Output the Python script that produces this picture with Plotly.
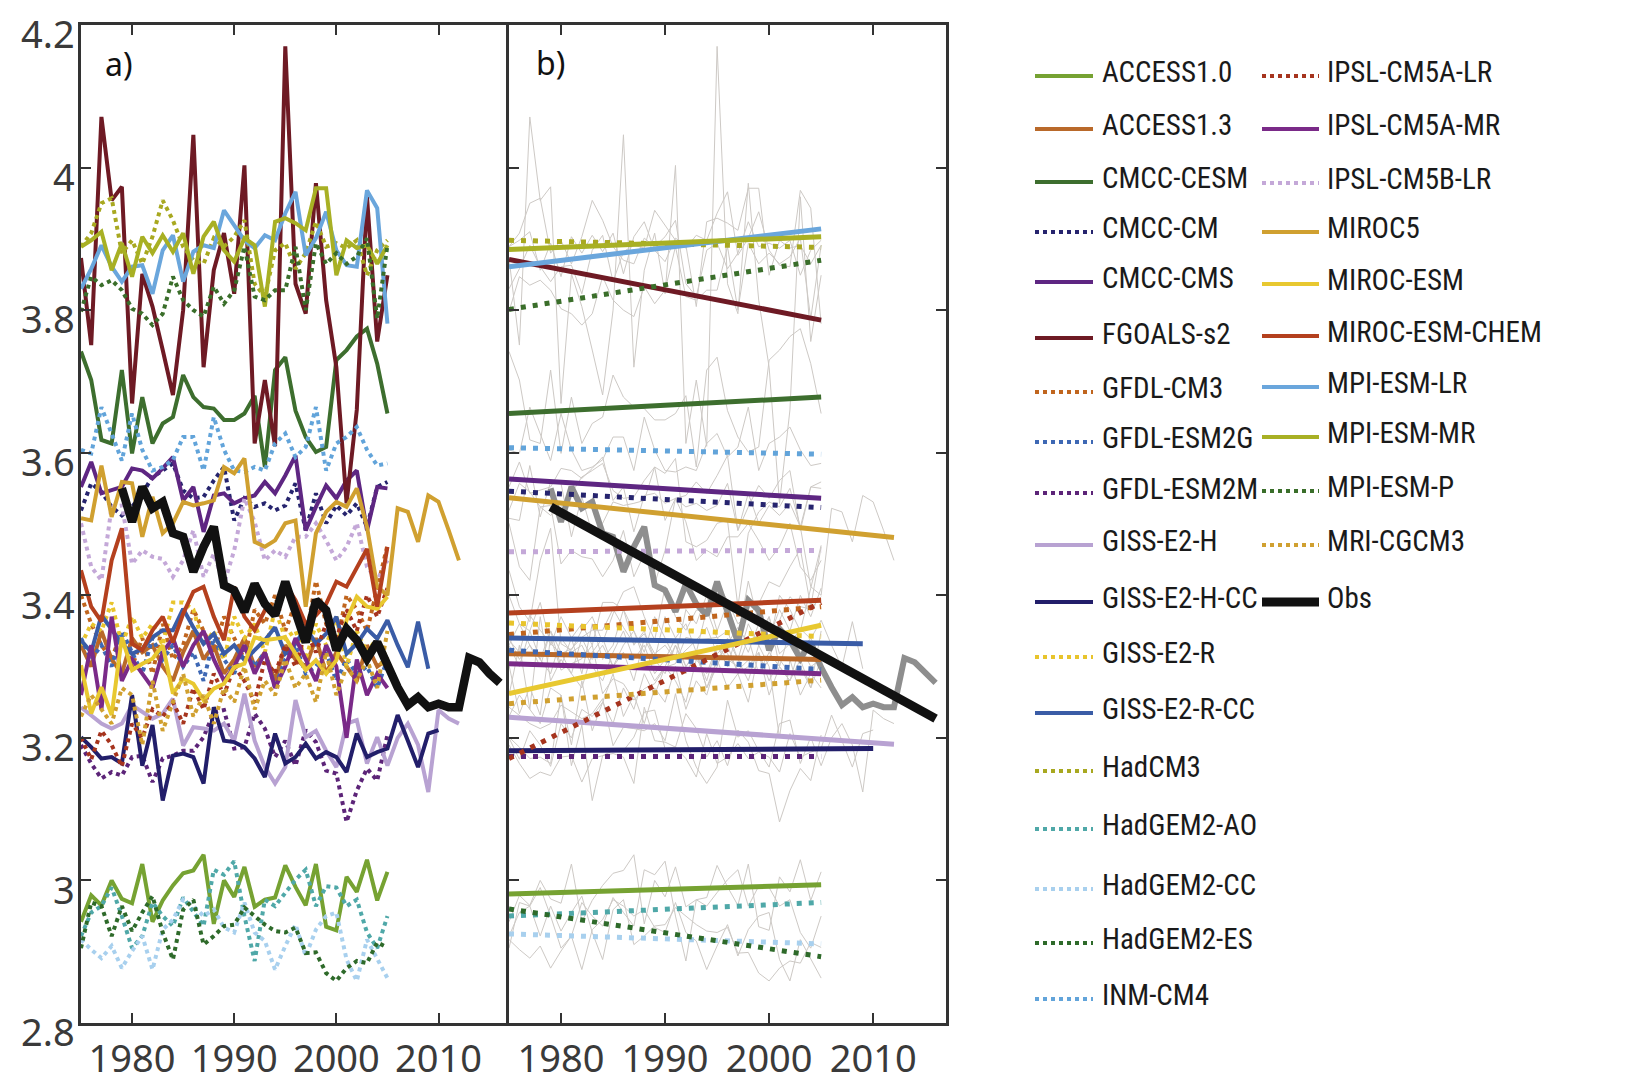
import plotly.graph_objects as go

W, H = 1634, 1075

# ---------------- data ----------------
model_names = ["ACCESS1.0", "ACCESS1.3", "CMCC-CESM", "CMCC-CM", "CMCC-CMS", "FGOALS-s2",
               "GFDL-CM3", "GFDL-ESM2G", "GFDL-ESM2M", "GISS-E2-H", "GISS-E2-H-CC",
               "GISS-E2-R", "GISS-E2-R-CC", "HadCM3", "HadGEM2-AO", "HadGEM2-CC",
               "HadGEM2-ES", "INM-CM4", "IPSL-CM5A-LR", "IPSL-CM5A-MR", "IPSL-CM5B-LR",
               "MIROC5", "MIROC-ESM", "MIROC-ESM-CHEM", "MPI-ESM-LR", "MPI-ESM-MR",
               "MPI-ESM-P", "MRI-CGCM3"]
first_year = 1975
last_year = [2005, 2005, 2005, 2005, 2005, 2005, 2005, 2005, 2005, 2012, 2010, 2005, 2009, 2005,
             2005, 2005, 2005, 2005, 2005, 2005, 2005, 2012, 2005, 2005, 2005, 2005, 2005, 2005]

access10 = [2.942, 2.979, 2.965, 3.000, 2.974, 2.968, 3.023, 2.942, 2.972, 2.993, 3.010, 3.014, 3.036,
            2.939, 3.000, 2.977, 3.019, 2.963, 2.973, 2.976, 3.021, 2.991, 2.965, 3.023, 2.935, 2.930,
            3.005, 2.984, 3.029, 2.972, 3.012]
access13 = [3.33, 3.30, 3.35, 3.31, 3.29, 3.34, 3.32, 3.33, 3.30, 3.28, 3.32, 3.35, 3.31, 3.33, 3.29,
            3.31, 3.34, 3.30, 3.32, 3.28, 3.33, 3.31, 3.30, 3.34, 3.29, 3.32, 3.30, 3.28, 3.33, 3.30, 3.31]
cmcc_cesm = [3.742, 3.702, 3.618, 3.613, 3.716, 3.599, 3.678, 3.613, 3.641, 3.650, 3.709, 3.678, 3.664,
             3.662, 3.646, 3.646, 3.655, 3.680, 3.580, 3.716, 3.734, 3.659, 3.622, 3.601, 3.608, 3.730,
             3.744, 3.763, 3.774, 3.725, 3.655]
cmcc_cm = [3.519, 3.557, 3.545, 3.524, 3.512, 3.524, 3.543, 3.566, 3.575, 3.585, 3.547, 3.536, 3.538,
           3.561, 3.580, 3.505, 3.536, 3.524, 3.529, 3.519, 3.526, 3.557, 3.491, 3.543, 3.501, 3.526,
           3.512, 3.529, 3.496, 3.552, 3.559]
cmcc_cms = [3.552, 3.587, 3.543, 3.547, 3.552, 3.578, 3.575, 3.564, 3.578, 3.594, 3.533, 3.552, 3.489,
            3.540, 3.543, 3.529, 3.536, 3.540, 3.559, 3.543, 3.568, 3.596, 3.491, 3.524, 3.554, 3.536,
            3.561, 3.575, 3.491, 3.552, 3.550]
fgoals_s2 = [3.873, 3.751, 4.071, 3.954, 3.973, 3.669, 3.851, 3.805, 3.744, 3.681, 3.800, 4.046, 3.720,
             3.856, 3.908, 3.823, 4.003, 3.613, 3.702, 3.609, 4.170, 3.837, 3.795, 3.978, 3.814, 3.720,
             3.529, 3.660, 3.959, 3.756, 3.849]
gfdl_cm3 = [3.40, 3.36, 3.33, 3.31, 3.35, 3.30, 3.34, 3.29, 3.36, 3.31, 3.33, 3.38, 3.35, 3.32, 3.37,
            3.34, 3.31, 3.38, 3.36, 3.40, 3.35, 3.39, 3.34, 3.42, 3.36, 3.33, 3.40, 3.38, 3.35, 3.41, 3.47]
gfdl_esm2g = [3.34, 3.31, 3.33, 3.30, 3.35, 3.32, 3.29, 3.34, 3.31, 3.33, 3.30, 3.32, 3.28, 3.34, 3.31,
              3.29, 3.33, 3.30, 3.32, 3.27, 3.31, 3.33, 3.29, 3.30, 3.32, 3.28, 3.31, 3.29, 3.30, 3.27, 3.31]
gfdl_esm2m = [3.190, 3.164, 3.143, 3.152, 3.147, 3.173, 3.175, 3.138, 3.171, 3.175, 3.182, 3.182, 3.201,
              3.236, 3.239, 3.185, 3.187, 3.234, 3.213, 3.173, 3.196, 3.161, 3.211, 3.194, 3.154, 3.150,
              3.082, 3.126, 3.157, 3.140, 3.204]
giss_e2_h = [3.243, 3.232, 3.220, 3.213, 3.220, 3.246, 3.236, 3.227, 3.234, 3.255, 3.189, 3.215, 3.213,
             3.210, 3.220, 3.196, 3.262, 3.196, 3.159, 3.136, 3.159, 3.253, 3.201, 3.210, 3.182, 3.159,
             3.220, 3.225, 3.164, 3.201, 3.161, 3.200, 3.220, 3.190, 3.124, 3.239, 3.227, 3.220]
giss_e2_h_cc = [3.201, 3.187, 3.171, 3.173, 3.164, 3.260, 3.161, 3.218, 3.112, 3.175, 3.178, 3.173,
                3.136, 3.243, 3.196, 3.194, 3.187, 3.171, 3.145, 3.206, 3.164, 3.173, 3.192, 3.171,
                3.180, 3.173, 3.152, 3.206, 3.173, 3.180, 3.185, 3.232, 3.196, 3.159, 3.206, 3.211]
giss_e2_r = [3.33, 3.36, 3.35, 3.39, 3.33, 3.37, 3.34, 3.36, 3.33, 3.39, 3.39, 3.38, 3.33, 3.35, 3.31,
             3.37, 3.34, 3.36, 3.32, 3.38, 3.34, 3.35, 3.31, 3.36, 3.33, 3.37, 3.30, 3.35, 3.32, 3.34, 3.31]
giss_e2_r_cc = [3.337, 3.320, 3.372, 3.351, 3.332, 3.318, 3.325, 3.341, 3.351, 3.351, 3.381, 3.355,
                3.332, 3.346, 3.318, 3.330, 3.309, 3.323, 3.337, 3.355, 3.318, 3.332, 3.355, 3.332,
                3.346, 3.370, 3.318, 3.332, 3.353, 3.339, 3.365, 3.330, 3.299, 3.363, 3.297]
hadcm3 = [3.889, 3.908, 3.950, 3.957, 3.880, 3.898, 3.865, 3.903, 3.954, 3.926, 3.889, 3.870, 3.865,
          3.901, 3.889, 3.903, 3.926, 3.837, 3.819, 3.884, 3.894, 3.858, 3.880, 3.924, 3.889, 3.894,
          3.887, 3.898, 3.849, 3.884, 3.898]
hadgem2_ao = [2.922, 2.955, 2.964, 2.990, 2.950, 2.905, 2.922, 2.969, 2.950, 2.936, 2.976, 2.955, 2.936,
              3.015, 3.008, 3.027, 2.950, 2.887, 2.973, 2.964, 2.983, 3.001, 3.015, 2.964, 2.992, 2.990,
              2.964, 2.973, 2.927, 2.905, 2.950]
hadgem2_cc = [2.917, 2.903, 2.891, 2.908, 2.877, 2.901, 2.922, 2.875, 2.931, 2.945, 2.973, 2.964, 2.950,
              2.959, 2.934, 2.927, 2.969, 2.927, 2.915, 2.875, 2.908, 2.938, 2.894, 2.931, 2.950, 2.955,
              2.889, 2.859, 2.917, 2.889, 2.863]
hadgem2_es = [2.905, 2.969, 2.964, 2.922, 2.964, 2.929, 2.955, 2.978, 2.927, 2.889, 2.959, 2.973, 2.910,
              2.922, 2.936, 2.938, 2.962, 2.950, 2.938, 2.929, 2.927, 2.934, 2.898, 2.899, 2.870, 2.859,
              2.877, 2.887, 2.884, 2.913, 2.906]
inm_cm4 = [3.604, 3.599, 3.664, 3.627, 3.589, 3.655, 3.604, 3.575, 3.580, 3.590, 3.622, 3.622, 3.575,
           3.650, 3.604, 3.575, 3.573, 3.580, 3.575, 3.613, 3.627, 3.594, 3.608, 3.664, 3.575, 3.613,
           3.622, 3.636, 3.604, 3.582, 3.585]
ipsl_cm5a_lr = [3.20, 3.17, 3.21, 3.19, 3.16, 3.22, 3.20, 3.24, 3.23, 3.25, 3.22, 3.27, 3.24, 3.29, 3.26,
                3.30, 3.28, 3.25, 3.31, 3.29, 3.33, 3.30, 3.35, 3.32, 3.36, 3.34, 3.38, 3.35, 3.40, 3.37,
                3.41]
ipsl_cm5a_mr = [3.26, 3.33, 3.24, 3.37, 3.28, 3.31, 3.29, 3.27, 3.32, 3.34, 3.30, 3.33, 3.35, 3.31, 3.28,
                3.30, 3.33, 3.29, 3.32, 3.27, 3.30, 3.34, 3.31, 3.28, 3.33, 3.30, 3.20, 3.31, 3.26, 3.29,
                3.27]
ipsl_cm5b_lr = [3.501, 3.440, 3.421, 3.524, 3.526, 3.444, 3.463, 3.454, 3.451, 3.426, 3.449, 3.491,
                3.426, 3.458, 3.416, 3.463, 3.536, 3.503, 3.449, 3.463, 3.454, 3.482, 3.482, 3.501,
                3.477, 3.449, 3.468, 3.501, 3.440, 3.421, 3.449]
miroc5 = [3.508, 3.505, 3.582, 3.510, 3.559, 3.557, 3.482, 3.538, 3.487, 3.501, 3.531, 3.526, 3.529,
          3.533, 3.580, 3.571, 3.592, 3.475, 3.468, 3.477, 3.501, 3.505, 3.384, 3.487, 3.517, 3.531,
          3.524, 3.550, 3.496, 3.412, 3.400, 3.522, 3.517, 3.475, 3.540, 3.531, 3.491, 3.449]
miroc_esm = [3.302, 3.234, 3.271, 3.232, 3.341, 3.295, 3.304, 3.311, 3.330, 3.262, 3.283, 3.276, 3.253,
             3.269, 3.276, 3.299, 3.304, 3.341, 3.337, 3.339, 3.341, 3.318, 3.295, 3.309, 3.290, 3.309,
             3.365, 3.398, 3.384, 3.381, 3.398]
miroc_esm_chem = [3.435, 3.384, 3.363, 3.449, 3.494, 3.332, 3.323, 3.351, 3.370, 3.334, 3.374, 3.405,
                  3.412, 3.370, 3.337, 3.412, 3.370, 3.351, 3.379, 3.381, 3.416, 3.393, 3.360, 3.372,
                  3.388, 3.419, 3.412, 3.440, 3.465, 3.384, 3.468]
mpi_esm_lr = [3.830, 3.858, 3.891, 3.861, 3.840, 3.861, 3.863, 3.823, 3.884, 3.905, 3.840, 3.882, 3.891,
              3.887, 3.940, 3.919, 3.898, 3.887, 3.905, 3.898, 3.936, 3.966, 3.877, 3.901, 3.938, 3.884,
              3.863, 3.861, 3.968, 3.943, 3.781]
mpi_esm_mr = [3.889, 3.898, 3.910, 3.856, 3.894, 3.847, 3.903, 3.880, 3.905, 3.882, 3.908, 3.851, 3.903,
              3.924, 3.884, 3.868, 3.901, 3.891, 3.805, 3.924, 3.929, 3.922, 3.912, 3.971, 3.971, 3.849,
              3.898, 3.887, 3.891, 3.865, 3.891]
mpi_esm_p = [3.798, 3.847, 3.835, 3.842, 3.828, 3.802, 3.795, 3.779, 3.795, 3.847, 3.814, 3.800, 3.791,
             3.833, 3.809, 3.828, 3.889, 3.819, 3.814, 3.828, 3.828, 3.889, 3.800, 3.894, 3.865, 3.880,
             3.865, 3.875, 3.901, 3.788, 3.891]
mri_cgcm3 = [3.23, 3.26, 3.24, 3.22, 3.27, 3.26, 3.19, 3.28, 3.21, 3.25, 3.29, 3.23, 3.26, 3.22, 3.27,
             3.25, 3.30, 3.24, 3.28, 3.26, 3.31, 3.27, 3.29, 3.25, 3.32, 3.26, 3.30, 3.28, 3.31, 3.27, 3.35]

obs_first_year = 1979
obs = [3.550, 3.503, 3.552, 3.522, 3.531, 3.487, 3.482, 3.433, 3.468, 3.496, 3.414, 3.407, 3.377,
       3.416, 3.388, 3.372, 3.419, 3.379, 3.334, 3.393, 3.379, 3.323, 3.353, 3.337, 3.311, 3.334,
       3.299, 3.271, 3.246, 3.257, 3.243, 3.248, 3.243, 3.243, 3.312, 3.306, 3.290, 3.277]

# linear trends of panel b (value at first year, value at last year)
trend_start = [2.981, 3.318, 3.655, 3.546, 3.563, 3.871, 3.345, 3.323, 3.174, 3.229, 3.182, 3.361,
               3.340, 3.898, 2.950, 2.925, 2.960, 3.607, 3.171, 3.304, 3.461, 3.537, 3.262, 3.375,
               3.861, 3.885, 3.801, 3.248]
trend_end = [2.994, 3.310, 3.678, 3.523, 3.536, 3.786, 3.384, 3.296, 3.174, 3.191, 3.185, 3.342,
             3.332, 3.888, 2.969, 2.911, 2.893, 3.598, 3.390, 3.290, 3.463, 3.481, 3.358, 3.393,
             3.914, 3.903, 3.870, 3.281]
obs_trend = [3.524, 3.227]

x_ticks = [1980, 1990, 2000, 2010]
y_ticks = [2.8, 3.0, 3.2, 3.4, 3.6, 3.8, 4.0, 4.2]
y_tick_text = ["2.8", "3", "3.2", "3.4", "3.6", "3.8", "4", "4.2"]

# ---------------- styles ----------------
series_values = [access10, access13, cmcc_cesm, cmcc_cm, cmcc_cms, fgoals_s2, gfdl_cm3, gfdl_esm2g,
                 gfdl_esm2m, giss_e2_h, giss_e2_h_cc, giss_e2_r, giss_e2_r_cc, hadcm3, hadgem2_ao,
                 hadgem2_cc, hadgem2_es, inm_cm4, ipsl_cm5a_lr, ipsl_cm5a_mr, ipsl_cm5b_lr, miroc5,
                 miroc_esm, miroc_esm_chem, mpi_esm_lr, mpi_esm_mr, mpi_esm_p, mri_cgcm3]

colors = {
    "ACCESS1.0": "#76a232", "ACCESS1.3": "#b9692a", "CMCC-CESM": "#3d6e2e", "CMCC-CM": "#26246e",
    "CMCC-CMS": "#5e2682", "FGOALS-s2": "#6e1a24", "GFDL-CM3": "#c0651e", "GFDL-ESM2G": "#3e68b4",
    "GFDL-ESM2M": "#5c2478", "GISS-E2-H": "#b8a2d2", "GISS-E2-H-CC": "#221e6a", "GISS-E2-R": "#e8c42c",
    "GISS-E2-R-CC": "#3a5ca6", "HadCM3": "#a8a820", "HadGEM2-AO": "#4fa8a8", "HadGEM2-CC": "#a8d0ee",
    "HadGEM2-ES": "#2e6a2a", "INM-CM4": "#62a4da", "IPSL-CM5A-LR": "#a6341e", "IPSL-CM5A-MR": "#7a2a88",
    "IPSL-CM5B-LR": "#c4a8d8", "MIROC5": "#d0a030", "MIROC-ESM": "#e8c830", "MIROC-ESM-CHEM": "#b4401e",
    "MPI-ESM-LR": "#6aa6dc", "MPI-ESM-MR": "#a8b024", "MPI-ESM-P": "#3a6e2a", "MRI-CGCM3": "#d0a030",
}
dotted = {"CMCC-CM", "GFDL-CM3", "GFDL-ESM2G", "GFDL-ESM2M", "GISS-E2-R", "HadCM3", "HadGEM2-AO",
          "HadGEM2-CC", "HadGEM2-ES", "INM-CM4", "IPSL-CM5A-LR", "IPSL-CM5B-LR", "MPI-ESM-P",
          "MRI-CGCM3"}

TICK_FONT = dict(family="Noto Sans, Open Sans, sans-serif", size=38, color="#3a3a3a")
LEG_FONT = dict(family="Liberation Sans Narrow, Roboto Condensed, DejaVu Sans Condensed, Roboto, sans-serif",
                size=29, color="#1a1a1a")

fig = go.Figure()

# ---------------- panel a ----------------
for i, name in enumerate(model_names):
    yrs = list(range(first_year, last_year[i] + 1))
    fig.add_trace(go.Scatter(
        x=yrs, y=series_values[i], mode="lines", xaxis="x", yaxis="y", showlegend=False,
        line=dict(color=colors[name], width=4, dash="4px,4px" if name in dotted else "solid"),
        name=name))
obs_years = list(range(obs_first_year, obs_first_year + len(obs)))
fig.add_trace(go.Scatter(x=obs_years, y=obs, mode="lines", xaxis="x", yaxis="y", showlegend=False,
                         line=dict(color="#111111", width=8.5), name="Obs"))

# ---------------- panel b ----------------
for i, name in enumerate(model_names):
    yrs = list(range(first_year, last_year[i] + 1))
    fig.add_trace(go.Scatter(x=yrs, y=series_values[i], mode="lines", xaxis="x2", yaxis="y2",
                             showlegend=False, line=dict(color="#cdc9c5", width=1), name=name))
fig.add_trace(go.Scatter(x=obs_years, y=obs, mode="lines", xaxis="x2", yaxis="y2", showlegend=False,
                         line=dict(color="#8e8e8e", width=6), name="Obs"))
for i, name in enumerate(model_names):
    fig.add_trace(go.Scatter(
        x=[first_year, last_year[i]], y=[trend_start[i], trend_end[i]], mode="lines",
        xaxis="x2", yaxis="y2", showlegend=False,
        line=dict(color=colors[name], width=5, dash="5px,7px" if name in dotted else "solid"),
        name=name + " trend"))
fig.add_trace(go.Scatter(x=[obs_years[0], obs_years[-1]], y=obs_trend, mode="lines", xaxis="x2",
                         yaxis="y2", showlegend=False, line=dict(color="#111111", width=9),
                         name="Obs trend"))

# ---------------- axes ----------------
AX = dict(showgrid=False, zeroline=False, showline=True, linecolor="#333333", linewidth=2.5,
          ticks="inside", ticklen=10, tickwidth=2, tickcolor="#333333", ticklabeloverflow="allow",
          automargin=False)
ydom = [1 - 1023 / H, 1 - 25 / H]
fig.update_layout(
    width=W, height=H, margin=dict(l=0, r=0, t=0, b=0, autoexpand=False),
    paper_bgcolor="white", plot_bgcolor="white",
    xaxis=dict(domain=[81 / W, 510 / W], range=[1975, 2017], tickvals=x_ticks, mirror="ticks",
               tickfont=TICK_FONT, ticklabelstandoff=1, anchor="y", **AX),
    yaxis=dict(domain=ydom, range=[2.8, 4.2], tickvals=y_ticks, ticktext=y_tick_text, mirror=True,
               tickfont=TICK_FONT, ticklabelstandoff=-4, ticklabelshift=10, anchor="x", **AX),
    xaxis2=dict(domain=[509 / W, 946 / W], range=[1975, 2017], tickvals=x_ticks, mirror="ticks",
                tickfont=TICK_FONT, ticklabelstandoff=1, anchor="y2", **AX),
    yaxis2=dict(domain=ydom, range=[2.8, 4.2], tickvals=y_ticks, showticklabels=False,
                mirror="ticks", anchor="x2", **AX),
)

# panel labels
fig.add_annotation(x=103 / W, y=1 - 64 / H, xref="paper", yref="paper", text="a)", showarrow=False,
                   xanchor="left", yanchor="middle",
                   font=dict(family="Noto Sans, sans-serif", size=32, color="#111111"))
fig.add_annotation(x=534 / W, y=1 - 62 / H, xref="paper", yref="paper", text="b)", showarrow=False,
                   xanchor="left", yanchor="middle",
                   font=dict(family="Noto Sans, sans-serif", size=32, color="#111111"))

# ---------------- legend (two columns) ----------------
col1_rows = [76, 129, 182, 232, 282, 338, 392, 442, 493, 545, 602, 657, 713, 771, 829, 889, 943, 999]
col2_rows = [76, 129, 183, 232, 284, 336, 387, 437, 491, 545, 602]
legend_cols = [(1035, 1093, 1100, col1_rows), (1262, 1319, 1325, col2_rows)]
legend_entries = model_names + ["Obs"]
k = 0
for x0, x1, xt, rows in legend_cols:
    for ry in rows:
        name = legend_entries[k]
        k += 1
        if name == "Obs":
            lc, lw, ld = "#111111", 9, "solid"
        else:
            lc, lw = colors[name], 4
            ld = "4px,4px" if name in dotted else "solid"
        fig.add_shape(type="line", xref="paper", yref="paper", x0=x0 / W, x1=x1 / W,
                      y0=1 - ry / H, y1=1 - ry / H, line=dict(color=lc, width=lw, dash=ld))
        fig.add_annotation(x=xt / W, y=1 - (ry - 4) / H, xref="paper", yref="paper", text=name,
                           showarrow=False, xanchor="left", yanchor="middle", font=LEG_FONT)

fig.write_html("out.html")
